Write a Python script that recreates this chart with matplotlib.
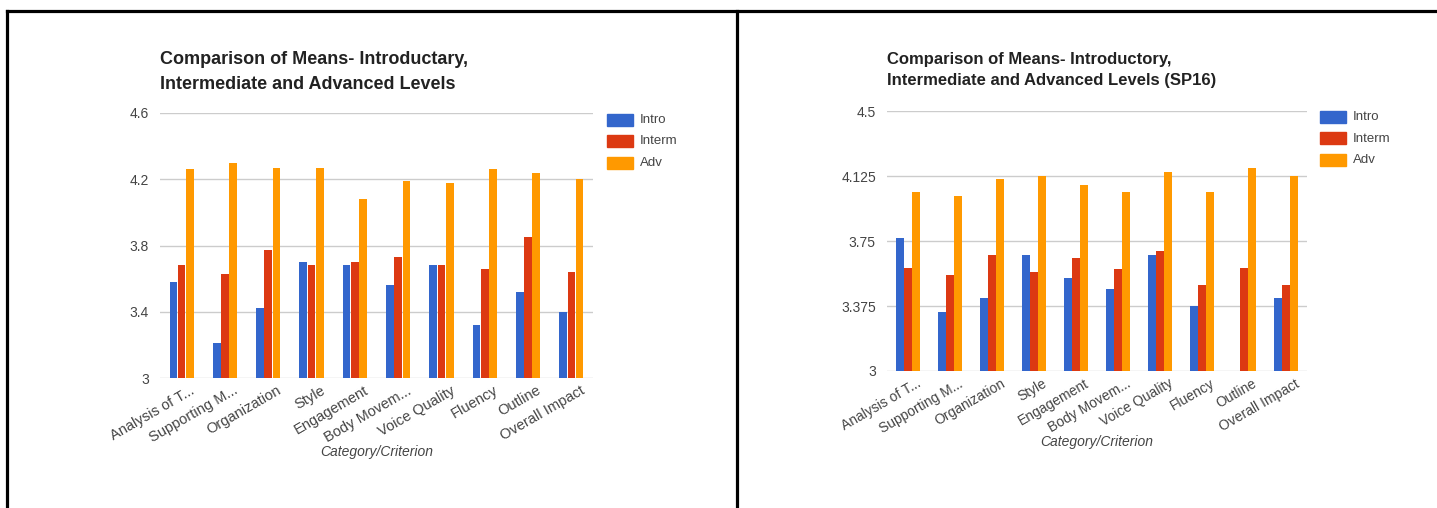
import matplotlib
matplotlib.use("Agg")
import matplotlib.pyplot as plt
from matplotlib.lines import Line2D
from matplotlib.patches import Rectangle
import numpy as np

plt.rcParams['font.family'] = ['Liberation Sans', 'DejaVu Sans']

# Data
categories = ["Analysis of T...", "Supporting M...", "Organization", "Style", "Engagement",
              "Body Movem...", "Voice Quality", "Fluency", "Outline", "Overall Impact"]
series_names = ["Intro", "Interm", "Adv"]
colors = ["#3366cc", "#dc3912", "#ff9900"]

# left chart
intro_1 = [3.58, 3.21, 3.42, 3.70, 3.68, 3.56, 3.68, 3.32, 3.52, 3.40]
interm_1 = [3.68, 3.63, 3.77, 3.68, 3.70, 3.73, 3.68, 3.66, 3.85, 3.64]
adv_1 = [4.26, 4.30, 4.27, 4.27, 4.08, 4.19, 4.18, 4.26, 4.24, 4.20]
yticks_1 = [3, 3.4, 3.8, 4.2, 4.6]
ylabels_1 = ["3", "3.4", "3.8", "4.2", "4.6"]
title_1 = "Comparison of Means- Introductary,\nIntermediate and Advanced Levels"

# right chart (SP16) - no Intro value for Outline
intro_2 = [3.77, 3.34, 3.42, 3.67, 3.535, 3.475, 3.67, 3.375, np.nan, 3.42]
interm_2 = [3.595, 3.555, 3.67, 3.57, 3.65, 3.59, 3.69, 3.495, 3.595, 3.495]
adv_2 = [4.035, 4.01, 4.11, 4.127, 4.075, 4.035, 4.15, 4.035, 4.17, 4.127]
yticks_2 = [3, 3.375, 3.75, 4.125, 4.5]
ylabels_2 = ["3", "3.375", "3.75", "4.125", "4.5"]
title_2 = "Comparison of Means- Introductory,\nIntermediate and Advanced Levels (SP16)"

W, H = 1437, 508
fig = plt.figure(figsize=(W / 100, H / 100), dpi=100)


def px_axes(x0, y0, x1, y1):
    # pixel box (top-left origin) -> figure axes
    return fig.add_axes([x0 / W, 1 - y1 / H, (x1 - x0) / W, (y1 - y0) / H])


def draw_panel(box, series, yticks, ylabels, title, title_y, title_fs, tick_fs,
               legend_xy, xlabel_y):
    ax = px_axes(*box)
    x = np.arange(len(categories))
    bw = 0.19
    for i, (vals, c) in enumerate(zip(series, colors)):
        vals = np.array(vals, dtype=float)
        base = yticks[0]
        ax.bar(x + (i - 1) * bw, vals - base, bw * 0.93, bottom=base, color=c, zorder=3)
    ax.set_xlim(-0.5, len(categories) - 0.5)
    ax.set_ylim(yticks[0], yticks[-1])
    ax.set_yticks(yticks)
    ax.set_yticklabels(ylabels)
    ax.grid(axis='y', color='#cccccc', linewidth=1, zorder=0)
    for s in ax.spines.values():
        s.set_visible(False)
    ax.tick_params(axis='both', length=0, colors='#444444', labelsize=10)
    ax.tick_params(axis='y', pad=8)
    ax.set_xticks(x + 0.2)
    ax.set_xticklabels(categories, rotation=30, ha='right', rotation_mode='anchor',
                       fontsize=tick_fs, color='#444444')
    ax.tick_params(axis='x', pad=4)
    # title placed in pixel coordinates
    fig.text(box[0] / W, 1 - title_y / H, title, fontsize=title_fs, fontweight='bold',
             color='#222222', ha='left', va='center', linespacing=1.55)
    fig.text((box[0] + box[2]) / 2 / W, 1 - xlabel_y / H, "Category/Criterion",
             fontsize=10, style='italic', color='#444444', ha='center', va='center')
    # legend drawn in pixel coordinates
    lx, ly = legend_xy
    for i, (name, c) in enumerate(zip(series_names, colors)):
        yy = ly + i * 21.5
        fig.add_artist(Rectangle((lx / W, 1 - (yy + 6) / H), 26 / W, 12 / H,
                                 color=c, transform=fig.transFigure))
        fig.text((lx + 33) / W, 1 - yy / H, name, fontsize=9.5, color='#444444',
                 ha='left', va='center')
    return ax


draw_panel((160, 113, 593, 378), [intro_1, interm_1, adv_1], yticks_1, ylabels_1,
           title_1, 72, 13, 10.5, (607, 120), 452)
draw_panel((887, 111, 1307, 371), [intro_2, interm_2, adv_2], yticks_2, ylabels_2,
           title_2, 70, 12, 10, (1320, 117), 442)

# frame lines around the panels
lw = 2.3
fig.add_artist(Line2D([7 / W, 1], [1 - 11 / H, 1 - 11 / H], color='black', lw=lw,
                      transform=fig.transFigure))
fig.add_artist(Line2D([7 / W, 7 / W], [0, 1 - 11 / H], color='black', lw=lw,
                      transform=fig.transFigure))
fig.add_artist(Line2D([737 / W, 737 / W], [0, 1 - 11 / H], color='black', lw=lw,
                      transform=fig.transFigure))

fig.savefig("out.png", dpi=100, facecolor='white')
